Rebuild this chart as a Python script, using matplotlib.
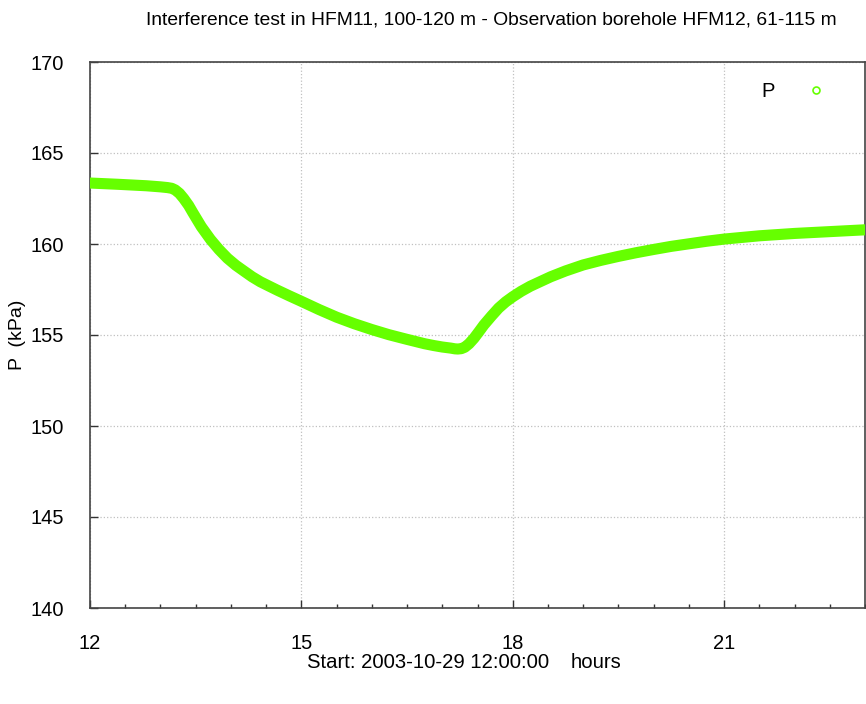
import matplotlib
matplotlib.use("Agg")
import matplotlib.pyplot as plt
from matplotlib.lines import Line2D
from matplotlib.ticker import MultipleLocator

plt.rcParams['font.family'] = ['Liberation Sans', 'DejaVu Sans']

# Data (hours since start, pressure kPa)
hours = [12.00, 12.40, 12.80, 13.00, 13.10, 13.16, 13.21, 13.27, 13.33, 13.40,
         13.46, 13.58, 13.71, 13.83, 13.95, 14.07, 14.19, 14.30, 14.42, 14.55,
         14.66, 14.83, 15.00, 15.25, 15.50, 15.75, 16.00, 16.24, 16.50, 16.75,
         16.88, 17.00, 17.12, 17.18, 17.22, 17.27, 17.32, 17.38, 17.45, 17.52,
         17.59, 17.70, 17.80, 17.90, 18.00, 18.12, 18.25, 18.40, 18.54, 18.75,
         19.00, 19.25, 19.50, 19.75, 20.00, 20.25, 20.50, 20.75, 21.00, 21.50,
         22.00, 22.50, 23.00]
pressure = [163.35, 163.28, 163.20, 163.14, 163.10, 163.06, 162.97, 162.78, 162.50, 162.12,
            161.72, 160.95, 160.25, 159.70, 159.22, 158.83, 158.50, 158.20, 157.92, 157.67,
            157.46, 157.15, 156.85, 156.40, 155.98, 155.62, 155.30, 155.02, 154.76, 154.52,
            154.42, 154.34, 154.28, 154.24, 154.23, 154.25, 154.33, 154.52, 154.82, 155.18,
            155.55, 156.05, 156.48, 156.82, 157.10, 157.40, 157.68, 157.95, 158.20, 158.52,
            158.85, 159.10, 159.32, 159.52, 159.70, 159.87, 160.01, 160.15, 160.27, 160.45,
            160.58, 160.68, 160.78]

title = "Interference test in HFM11, 100-120 m - Observation borehole HFM12, 61-115 m"
ylabel = "P  (kPa)"
xlabel_left = "Start: 2003-10-29 12:00:00"
xlabel_right = "hours"
series_label = "P"
xticks = [12, 15, 18, 21]
yticks = [140, 145, 150, 155, 160, 165, 170]

green = '#66ff00'

W, H = 866, 704
fig = plt.figure(figsize=(W / 100, H / 100), dpi=100)
ax = fig.add_axes([90 / W, 1 - 608 / H, 775 / W, 546 / H])

ax.plot(hours, pressure, color=green, lw=8, solid_capstyle='round',
        solid_joinstyle='round', zorder=3)

ax.set_xlim(12, 23)
ax.set_ylim(140, 170)
ax.set_xticks(xticks)
ax.set_yticks(yticks)
ax.xaxis.set_minor_locator(MultipleLocator(0.5))
ax.tick_params(which='major', direction='in', length=6, width=1, color='#333',
               labelsize=14.5)
ax.tick_params(axis='x', which='major', pad=19)
ax.tick_params(axis='y', which='major', pad=19)
ax.tick_params(which='minor', direction='in', length=3, width=1, color='#333')
ax.tick_params(axis='y', which='minor', length=0)
ax.grid(True, which='major', color='#c0c0c0', linestyle=':', linewidth=0.9)

for s in ax.spines.values():
    s.set_color('#444')
    s.set_linewidth(1.2)

fig.text(17 / W, 1 - 335 / H, ylabel, rotation=90, ha='center', va='center', fontsize=14)
fig.text(491 / W, 1 - 20 / H, title, ha='center', va='center', fontsize=13.9)
fig.text(307 / W, 1 - 662 / H, xlabel_left, ha='left', va='center', fontsize=14.6)
fig.text(571 / W, 1 - 662 / H, xlabel_right, ha='left', va='center', fontsize=14.6)

handle = Line2D([], [], linestyle='none', marker='o', markersize=5,
                markerfacecolor='none', markeredgecolor=green, markeredgewidth=1.2)
ax.legend([handle], [series_label], loc='upper right', frameon=False,
          markerfirst=False, fontsize=14.5, handlelength=1.0, handletextpad=1.55,
          bbox_to_anchor=(0.973, 0.997))

fig.savefig('out.png', dpi=100)
